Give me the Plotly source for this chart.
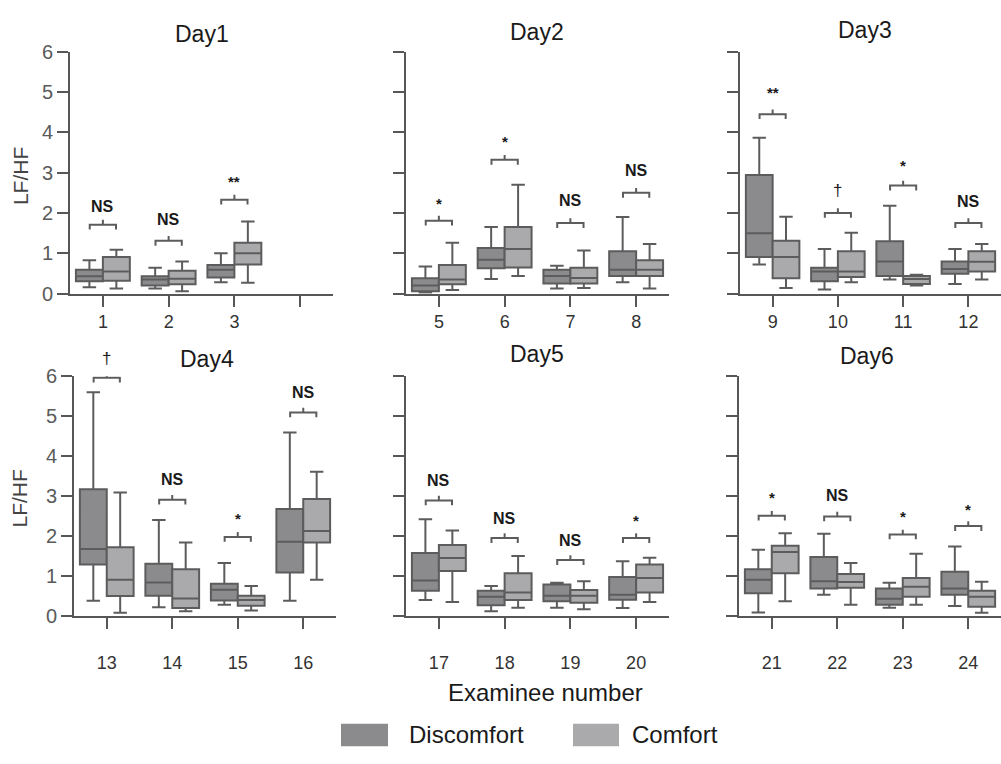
import plotly.graph_objects as go

W, H = 1001, 764

# ---------------- data ----------------
day_names = ["Day1", "Day2", "Day3", "Day4", "Day5", "Day6"]
examinees = [1, 2, 3, 5, 6, 7, 8, 9, 10, 11, 12, 13, 14, 15, 16, 17, 18, 19, 20, 21, 22, 23, 24]
day_of = [1, 1, 1, 2, 2, 2, 2, 3, 3, 3, 3, 4, 4, 4, 4, 5, 5, 5, 5, 6, 6, 6, 6]
tick_labels = [["1", "2", "3", ""], ["5", "6", "7", "8"], ["9", "10", "11", "12"],
               ["13", "14", "15", "16"], ["17", "18", "19", "20"], ["21", "22", "23", "24"]]

disc_low = [0.16, 0.13, 0.28, 0.02, 0.36, 0.13, 0.28, 0.72, 0.10, 0.35, 0.24,
            0.38, 0.22, 0.28, 0.38, 0.40, 0.12, 0.21, 0.20, 0.09, 0.53, 0.21, 0.25]
disc_q1 = [0.31, 0.20, 0.40, 0.06, 0.63, 0.25, 0.44, 0.91, 0.31, 0.44, 0.49,
           1.29, 0.51, 0.39, 1.09, 0.63, 0.27, 0.37, 0.41, 0.57, 0.69, 0.28, 0.53]
disc_med = [0.43, 0.35, 0.59, 0.20, 0.84, 0.44, 0.59, 1.50, 0.55, 0.80, 0.61,
            1.68, 0.84, 0.66, 1.86, 0.89, 0.48, 0.51, 0.53, 0.91, 0.87, 0.43, 0.69]
disc_q3 = [0.59, 0.43, 0.71, 0.38, 1.13, 0.59, 1.05, 2.94, 0.64, 1.30, 0.80,
           3.17, 1.31, 0.81, 2.68, 1.58, 0.63, 0.79, 0.98, 1.17, 1.48, 0.69, 1.11]
disc_high = [0.83, 0.64, 1.00, 0.67, 1.65, 0.69, 1.90, 3.87, 1.11, 2.18, 1.11,
             5.60, 2.40, 1.33, 4.59, 2.42, 0.75, 0.83, 1.37, 1.66, 2.06, 0.83, 1.74]

comf_low = [0.13, 0.06, 0.27, 0.09, 0.44, 0.14, 0.13, 0.14, 0.28, 0.20, 0.35,
            0.08, 0.12, 0.14, 0.91, 0.35, 0.21, 0.17, 0.35, 0.37, 0.28, 0.28, 0.08]
comf_q1 = [0.32, 0.23, 0.72, 0.23, 0.65, 0.25, 0.44, 0.38, 0.41, 0.24, 0.55,
           0.50, 0.20, 0.26, 1.84, 1.13, 0.40, 0.33, 0.59, 1.07, 0.71, 0.48, 0.23]
comf_med = [0.55, 0.37, 1.00, 0.35, 1.11, 0.39, 0.59, 0.91, 0.55, 0.36, 0.79,
            0.91, 0.44, 0.40, 2.13, 1.45, 0.59, 0.51, 0.95, 1.60, 0.85, 0.73, 0.48]
comf_q3 = [0.91, 0.57, 1.26, 0.71, 1.65, 0.64, 0.83, 1.31, 1.05, 0.44, 1.05,
           1.72, 1.17, 0.51, 2.93, 1.78, 1.07, 0.65, 1.29, 1.76, 1.05, 0.95, 0.63]
comf_high = [1.09, 0.80, 1.79, 1.26, 2.70, 1.07, 1.23, 1.91, 1.51, 0.47, 1.23,
             3.09, 1.84, 0.75, 3.61, 2.14, 1.50, 0.87, 1.46, 2.07, 1.33, 1.56, 0.86]

sig_label = ["NS", "NS", "**", "*", "*", "NS", "NS", "**", "†", "*", "NS",
             "†", "NS", "*", "NS", "NS", "NS", "NS", "*", "*", "NS", "*", "*"]
sig_text_y = [2.16, 1.83, 2.84, 2.29, 3.82, 2.32, 3.06, 5.05, 2.56, 3.24, 2.29,
              6.42, 3.41, 2.50, 5.58, 3.38, 2.45, 1.90, 2.45, 3.01, 3.01, 2.54, 2.71]
sig_bracket_y = [1.71, 1.31, 2.33, 1.81, 3.32, 1.75, 2.50, 4.45, 2.00, 2.68, 1.75,
                 5.96, 2.91, 1.98, 5.09, 2.89, 1.95, 1.40, 1.95, 2.51, 2.49, 2.04, 2.25]

# ---------------- style ----------------
FONT = "Arial, Liberation Sans, sans-serif"
DISC_FILL = "#8b8b8e"
COMF_FILL = "#aaaaac"
EDGE = "#5c5c5c"
AXC = "#575757"
Y_MAX = 6

# panel geometry in pixels: (x_left, x_right, y_top(6), y_bottom(0))
panels = [(70, 333, 42, 291), (406, 669, 42, 291), (740, 1001, 42, 291),
          (74, 336, 376, 623), (406, 669, 376, 623), (739, 1001, 376, 623)]
title_pos = [(202, 24), (537, 22), (865, 20), (207, 358), (537, 353), (867, 355)]

fig = go.Figure()
layout = dict(width=W, height=H, margin=dict(l=0, r=0, t=0, b=0),
              paper_bgcolor="white", plot_bgcolor="white",
              boxmode="group", boxgap=0.18, boxgroupgap=0.0, showlegend=False,
              font=dict(family=FONT))
annotations = []
shapes = []

for d in range(6):
    sfx = "" if d == 0 else str(d + 1)
    xa, ya = "x" + sfx, "y" + sfx
    idx = [i for i, dd in enumerate(day_of) if dd == d + 1]
    pos = list(range(len(idx)))
    x0p, x1p, ytp, ybp = panels[d]
    px_per_unit = (ybp - ytp) / Y_MAX
    bottom_row = d >= 3

    fig.add_trace(go.Box(
        x=pos, q1=[disc_q1[i] for i in idx], median=[disc_med[i] for i in idx],
        q3=[disc_q3[i] for i in idx], lowerfence=[disc_low[i] for i in idx],
        upperfence=[disc_high[i] for i in idx], name="Discomfort",
        fillcolor=DISC_FILL, line=dict(color=EDGE, width=2), whiskerwidth=0.5,
        boxpoints=False, offsetgroup="D", xaxis=xa, yaxis=ya, hoverinfo="skip"))
    fig.add_trace(go.Box(
        x=pos, q1=[comf_q1[i] for i in idx], median=[comf_med[i] for i in idx],
        q3=[comf_q3[i] for i in idx], lowerfence=[comf_low[i] for i in idx],
        upperfence=[comf_high[i] for i in idx], name="Comfort",
        fillcolor=COMF_FILL, line=dict(color=EDGE, width=2), whiskerwidth=0.5,
        boxpoints=False, offsetgroup="C", xaxis=xa, yaxis=ya, hoverinfo="skip"))

    # significance brackets
    bx, by = [], []
    hw, tk = 0.2, 0.12
    for p, i in zip(pos, idx):
        b = sig_bracket_y[i]
        bx += [p - hw, p - hw, p + hw, p + hw, None, p, p, None]
        by += [b - tk, b, b, b - tk, None, b, b + tk, None]
        lab = sig_label[i]
        if lab == "NS":
            fnt = dict(family=FONT, size=16, color="#1a1a1a", weight="bold")
            ysh = 0
        elif lab == "†":
            fnt = dict(family=FONT, size=17, color="#1a1a1a")
            ysh = 0
        else:
            fnt = dict(family=FONT, size=15, color="#1a1a1a", weight="bold")
            ysh = -2
        ty = sig_text_y[i]
        if ty > Y_MAX:  # keep inside axis range, shift in pixels
            ysh += (ty - Y_MAX) * px_per_unit
            ty = Y_MAX
        annotations.append(dict(x=p, y=ty, xref=xa, yref=ya, text=lab,
                                showarrow=False, font=fnt, xanchor="center",
                                yanchor="middle", yshift=ysh))
    fig.add_trace(go.Scatter(x=bx, y=by, mode="lines", line=dict(color=EDGE, width=2),
                             xaxis=xa, yaxis=ya, cliponaxis=False, hoverinfo="skip",
                             showlegend=False))

    layout["xaxis" + sfx] = dict(
        domain=[x0p / W, x1p / W], range=[-0.5, 3.5], anchor=ya,
        tickvals=[0, 1, 2, 3], ticktext=tick_labels[d],
        showline=True, linecolor=AXC, linewidth=2, ticks="outside", ticklen=11,
        tickwidth=2, tickcolor=AXC, showgrid=False, zeroline=False,
        tickfont=dict(family=FONT, size=18, color="#333333"),
        ticklabelstandoff=18 if bottom_row else 0, fixedrange=True)
    layout["yaxis" + sfx] = dict(
        domain=[1 - ybp / H, 1 - ytp / H], range=[0, Y_MAX], anchor=xa,
        tickvals=[0, 1, 2, 3, 4, 5, 6], showticklabels=(d % 3 == 0),
        showline=True, linecolor=AXC, linewidth=2, ticks="outside", ticklen=11,
        tickwidth=2, tickcolor=AXC, showgrid=False, zeroline=False,
        tickfont=dict(family=FONT, size=20, color="#5a5a5a"), fixedrange=True)

    tx, tyy = title_pos[d]
    annotations.append(dict(x=tx / W, y=1 - tyy / H, xref="paper", yref="paper",
                            text=day_names[d], showarrow=False,
                            font=dict(family=FONT, size=23, color="#1a1a1a"),
                            xanchor="center", yanchor="middle"))

# y-axis titles
for cy in (170, 502):
    annotations.append(dict(x=20 / W, y=1 - cy / H, xref="paper", yref="paper",
                            text="LF/HF", textangle=-90, showarrow=False,
                            font=dict(family=FONT, size=21, color="#444444"),
                            xanchor="center", yanchor="middle"))

# x-axis title
annotations.append(dict(x=545 / W, y=1 - 702 / H, xref="paper", yref="paper",
                        text="Examinee number", showarrow=False,
                        font=dict(family=FONT, size=24, color="#1a1a1a"),
                        xanchor="center", yanchor="middle"))

# legend (manual swatches)
legend_items = [("Discomfort", DISC_FILL, 341, 388, 407), ("Comfort", COMF_FILL, 573, 619, 630)]
for name, col, sx0, sx1, lx in legend_items:
    shapes.append(dict(type="rect", xref="paper", yref="paper",
                       x0=sx0 / W, x1=sx1 / W, y0=1 - 757 / H, y1=1 - 734 / H,
                       fillcolor=col, line=dict(width=0)))
    annotations.append(dict(x=lx / W, y=1 - 745 / H, xref="paper", yref="paper",
                            text=name, showarrow=False,
                            font=dict(family=FONT, size=24, color="#1a1a1a"),
                            xanchor="left", yanchor="middle"))

layout["annotations"] = annotations
layout["shapes"] = shapes
fig.update_layout(**layout)

fig.write_html("out.html")
